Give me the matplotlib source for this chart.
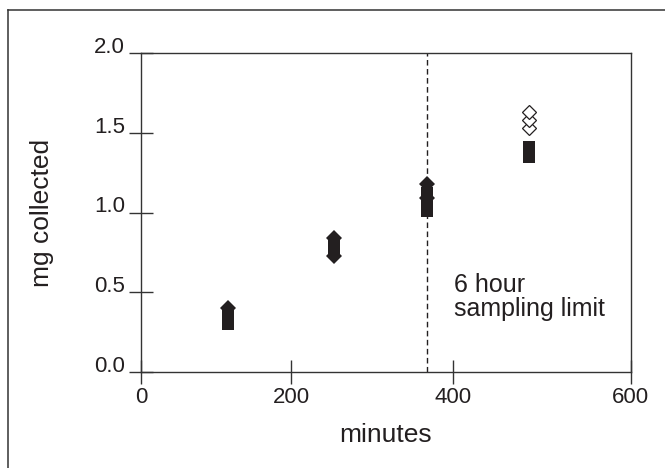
import numpy as np
import matplotlib
matplotlib.use("Agg")
import matplotlib.pyplot as plt
from matplotlib.lines import Line2D

# ── Data ────────────────────────────────────────────────────────────────────
# filled squares
square_x = [116, 116, 116, 253, 253, 368, 368, 368, 485, 485, 485]
square_y = [0.30, 0.33, 0.36, 0.77, 0.80, 1.01, 1.05, 1.12, 1.35, 1.38, 1.41]

# filled diamonds
diamond_x = [116, 253, 253, 368, 368]
diamond_y = [0.40, 0.73, 0.84, 1.09, 1.18]

# open diamonds (past the 6 hour limit)
open_x = [485, 485, 485]
open_y = [1.53, 1.58, 1.63]

limit_minutes = 368
x_ticks = [0, 200, 400, 600]
y_ticks = [0.0, 0.5, 1.0, 1.5, 2.0]

# the printed x axis is not evenly spaced; tick positions in px from the y axis
X_KNOTS = [-600, 0, 200, 400, 600, 1200]
X_PIX = [-450, 0, 150, 312.3, 489.7, 1023.7]

INK = "#231f20"
plt.rcParams["font.family"] = ["Liberation Sans", "DejaVu Sans"]


def fwd(x):
    return np.interp(x, X_KNOTS, X_PIX)


def inv(p):
    return np.interp(p, X_PIX, X_KNOTS)


fig = plt.figure(figsize=(6.65, 4.68), dpi=100)
ax = fig.add_axes([141 / 665, 1 - 372 / 468, 489.7 / 665, 319 / 468])
ax.set_xscale("function", functions=(fwd, inv))

ax.axvline(limit_minutes, color=INK, lw=1, dashes=(4, 2.5), zorder=1)

ax.plot(square_x, square_y, ls="none", marker="s", ms=8.3, mew=0,
        color=INK, zorder=3)
ax.plot(diamond_x, diamond_y, ls="none", marker="D", ms=8.2, mew=0,
        color=INK, zorder=4)
ax.plot(open_x, open_y, ls="none", marker="D", ms=7.6, mew=0.9,
        mfc="white", mec=INK, zorder=4)

ax.text(401, 0.62, "6 hour\nsampling limit", fontsize=18, color=INK,
        va="top", ha="left", linespacing=1.0)

ax.set_xlim(0, 600)
ax.set_ylim(0, 2.0)
ax.set_xticks(x_ticks)
ax.set_xticklabels([str(t) for t in x_ticks])
ax.set_yticks(y_ticks)
ax.set_yticklabels([f"{t:.1f}" for t in y_ticks])
ax.minorticks_off()

for s in ax.spines.values():
    s.set_color("#333333")
    s.set_linewidth(1.0)

ax.tick_params(direction="inout", length=17, width=1, color="#333333",
               labelsize=16, labelcolor=INK)
ax.tick_params(axis="x", pad=2)
ax.tick_params(axis="y", pad=3)
plt.setp(ax.get_yticklabels(), va="baseline")

ax.set_xlabel("minutes", fontsize=19, color=INK)
ax.set_ylabel("mg collected", fontsize=19, color=INK)
ax.xaxis.set_label_coords(0.5, -0.16)
ax.yaxis.set_label_coords(-0.178, 0.5)

# border of the printed figure (only top and left edges show)
fx, fy = 7.5 / 665, 1 - 10 / 468
fig.add_artist(Line2D([fx, 1], [fy, fy], transform=fig.transFigure,
                      color="#333333", lw=1.1))
fig.add_artist(Line2D([fx, fx], [0, fy], transform=fig.transFigure,
                      color="#333333", lw=1.1))

fig.savefig("out.png", dpi=100)
